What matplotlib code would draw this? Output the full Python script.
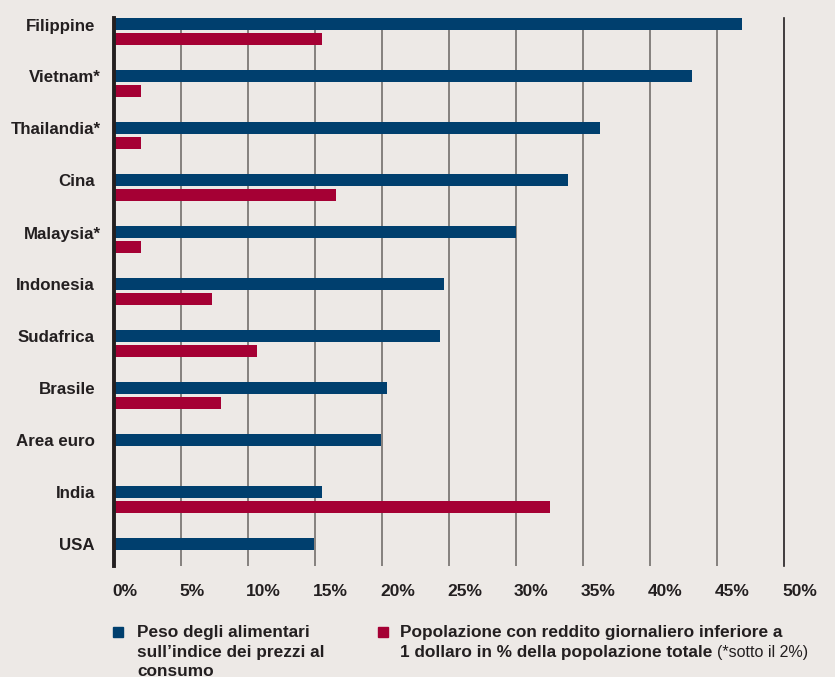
import matplotlib.pyplot as plt
from matplotlib.patches import Rectangle

# food weight in CPI vs population under 1$/day, % values
countries = ['Filippine', 'Vietnam*', 'Thailandia*', 'Cina', 'Malaysia*', 'Indonesia',
             'Sudafrica', 'Brasile', 'Area euro', 'India', 'USA']
peso_alimentari = [46.9, 43.1, 36.3, 33.9, 30.0, 24.6, 24.3, 20.4, 19.9, 15.5, 14.9]
sotto_1_dollaro = [15.5, 2.0, 2.0, 16.6, 2.0, 7.3, 10.7, 8.0, 0.0, 32.5, 0.0]
xticks = [0, 5, 10, 15, 20, 25, 30, 35, 40, 45, 50]

bg = '#ede9e6'
blue = '#003f6e'
red = '#a50034'
dark = '#231f20'
W, H = 835, 677

plt.rcParams['font.family'] = ['Liberation Sans', 'DejaVu Sans']

fig = plt.figure(figsize=(W / 100, H / 100), dpi=100, facecolor=bg)
ax = fig.add_axes([114 / W, 1 - 566 / H, 670 / W, 548 / H])
ax.set_facecolor(bg)

rows = list(range(len(countries)))
off = 7.5 / 52
h = 12 / 52
ax.barh([r - off for r in rows], peso_alimentari, height=h, color=blue, zorder=3)
ax.barh([r + off for r in rows], sotto_1_dollaro, height=h, color=red, zorder=3)

for x in xticks[1:-1]:
    ax.axvline(x, color='#85817e', lw=1.4, zorder=1)
ax.axvline(50, color=dark, lw=1.2, zorder=1, clip_on=False)
ax.axvline(0, color=dark, lw=2.8, zorder=4, clip_on=False)

ax.set_xlim(0, 50)
ax.set_ylim(10 + 14.5 / 52, -13.5 / 52)
for s in ax.spines.values():
    s.set_visible(False)
ax.set_xticks([])
ax.set_yticks([])

# country names, starred ones hang a little further right
for r, name in zip(rows, countries):
    dx = -13 if name.endswith('*') else -19
    ax.annotate(name, xy=(0, r - off), xycoords=('axes fraction', 'data'),
                xytext=(dx, -2), textcoords='offset pixels',
                ha='right', va='center', fontsize=12.2, fontweight='bold', color=dark)

# percent labels start at their gridline
for v in xticks:
    ax.annotate(f'{v}%', xy=(v, 0), xycoords=('data', 'axes fraction'),
                xytext=(-2, -26), textcoords='offset pixels',
                ha='left', va='center', fontsize=12.5, fontweight='bold', color=dark)

# legend drawn by hand below the axis
def fy(y):
    return 1 - y / H

fig.patches.append(Rectangle((113 / W, fy(637)), 10 / W, 10 / H, color=blue,
                             transform=fig.transFigure, figure=fig))
fig.patches.append(Rectangle((378 / W, fy(637)), 10 / W, 10 / H, color=red,
                             transform=fig.transFigure, figure=fig))
tkw = dict(fontsize=12.4, fontweight='bold', color=dark, va='center')
fig.text(137 / W, fy(632), 'Peso degli alimentari', **tkw)
fig.text(137 / W, fy(652), 'sull\u2019indice dei prezzi al', **tkw)
fig.text(137 / W, fy(671), 'consumo', **tkw)
fig.text(400 / W, fy(632), 'Popolazione con reddito giornaliero inferiore a', **tkw)
t = fig.text(400 / W, fy(652), '1 dollaro in % della popolazione totale', **tkw)

fig.canvas.draw()
bb = t.get_window_extent()
fig.text((bb.x1 + 5) / W, fy(652), '(*sotto il 2%)', fontsize=11.5, color=dark, va='center')

fig.savefig('out.png', dpi=100, facecolor=bg)
